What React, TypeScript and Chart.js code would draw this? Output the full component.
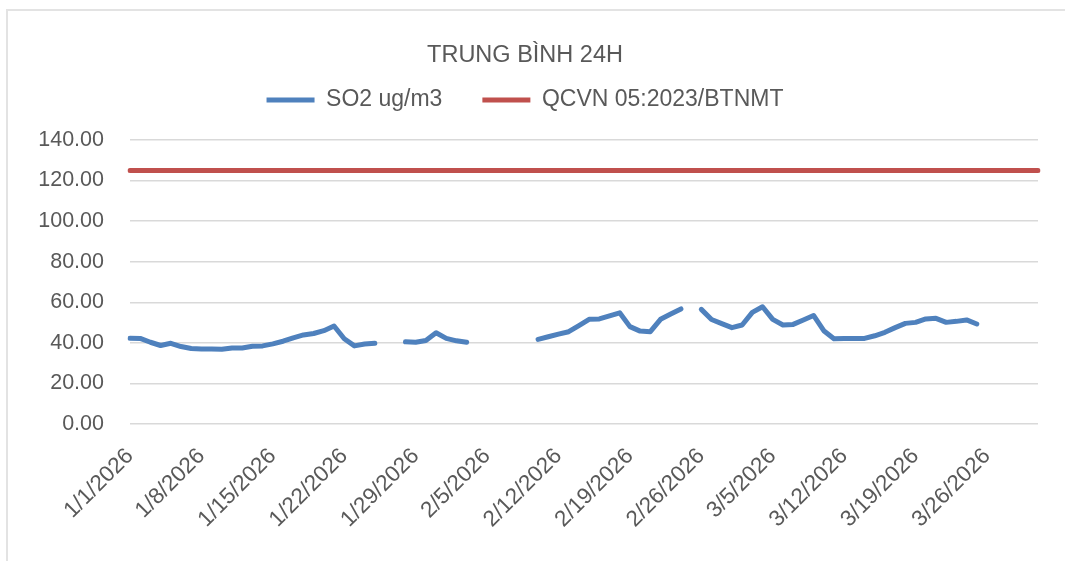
import React, { useEffect, useRef } from "react";
import { Chart, registerables } from "chart.js";

Chart.register(...registerables);

const TITLE = "TRUNG BÌNH 24H";
const SERIES_NAMES = ["SO2 ug/m3", "QCVN 05:2023/BTNMT"];

const MONTHS: [number, number][] = [
  [1, 31],
  [2, 28],
  [3, 31],
];
const YEAR = 2026;
const dateLabels: string[] = [];
for (const [m, days] of MONTHS) {
  for (let d = 1; d <= days; d++) dateLabels.push(`${m}/${d}/${YEAR}`);
}
const LABEL_EVERY = 7;

const so2Values: (number | null)[] = [
  42.3, 42.2, 40.3, 38.7, 39.8, 38.2, 37.2, 37.0, 37.0, 36.8,
  37.5, 37.5, 38.3, 38.5, 39.5, 40.8, 42.5, 43.9, 44.6, 46.0,
  48.3, 42.0, 38.5, 39.4, 39.8, null, null, 40.5, 40.3, 41.2,
  45.0, 42.2, 41.0, 40.3, null, null, null, null, null, null,
  41.7, 43.0, 44.3, 45.5, 48.5, 51.6, 51.8, 53.3, 54.8, 48.0,
  45.8, 45.5, 51.6, 54.2, 56.7, null, 56.5, 51.5, 49.5, 47.5,
  48.8, 55.0, 57.8, 51.6, 48.8, 49.1, 51.3, 53.5, 46.0, 42.0,
  42.2, 42.2, 42.2, 43.5, 45.2, 47.5, 49.6, 50.1, 51.8, 52.1,
  50.1, 50.6, 51.3, 49.3, null, null, null, null, null, null,
];

const qcvnValues: number[] = [
  125, 125, 125, 125, 125, 125, 125, 125, 125, 125,
  125, 125, 125, 125, 125, 125, 125, 125, 125, 125,
  125, 125, 125, 125, 125, 125, 125, 125, 125, 125,
  125, 125, 125, 125, 125, 125, 125, 125, 125, 125,
  125, 125, 125, 125, 125, 125, 125, 125, 125, 125,
  125, 125, 125, 125, 125, 125, 125, 125, 125, 125,
  125, 125, 125, 125, 125, 125, 125, 125, 125, 125,
  125, 125, 125, 125, 125, 125, 125, 125, 125, 125,
  125, 125, 125, 125, 125, 125, 125, 125, 125, 125,
];

const Y_MIN = 0;
const Y_MAX = 140;
const Y_STEP = 20;

const FONT = "'Liberation Sans', Arial, sans-serif";
const TEXT_COLOR = "#595959";
const GRID_COLOR = "#d9d9d9";
const BLUE = "#4f81bd";
const RED = "#c0504d";

const PLOT_BOTTOM = 424;
const PLOT_LEFT = 130;
const PAD_LEFT = 12;

export default function App() {
  const canvasRef = useRef<HTMLCanvasElement | null>(null);

  useEffect(() => {
    if (!canvasRef.current) return;
    const chart = new Chart(canvasRef.current, {
      type: "line",
      data: {
        labels: dateLabels,
        datasets: [
          {
            label: SERIES_NAMES[0],
            data: so2Values,
            borderColor: BLUE,
            backgroundColor: BLUE,
            borderWidth: 5,
            borderCapStyle: "round",
            borderJoinStyle: "round",
            pointRadius: 0,
            spanGaps: false,
            tension: 0,
          },
          {
            label: SERIES_NAMES[1],
            data: qcvnValues,
            borderColor: RED,
            backgroundColor: RED,
            borderWidth: 5,
            borderCapStyle: "round",
            borderJoinStyle: "round",
            pointRadius: 0,
            tension: 0,
          },
        ],
      },
      options: {
        animation: false,
        responsive: false,
        maintainAspectRatio: false,
        layout: { padding: { top: 0, left: PAD_LEFT, right: 27, bottom: 0 } },
        plugins: {
          title: {
            display: true,
            text: TITLE,
            color: TEXT_COLOR,
            font: { family: FONT, size: 23.5, weight: "normal" },
            padding: { top: 41.9, bottom: -21.6 },
          },
          subtitle: {
            display: true,
            text: "",
            weight: 500,
            font: { family: FONT, size: 1, lineHeight: 1 },
            padding: { top: 17.5, bottom: 0 },
          },
          legend: {
            display: true,
            position: "top",
            labels: {
              usePointStyle: true,
              pointStyle: "line",
              pointStyleWidth: 48,
              color: TEXT_COLOR,
              font: { family: FONT, size: 23 },
              padding: 40,
            },
          },
          tooltip: { enabled: false },
        },
        scales: {
          x: {
            type: "category",
            offset: false,
            grid: { display: false, drawTicks: false },
            border: { display: false },
            ticks: {
              autoSkip: false,
              minRotation: 45,
              maxRotation: 45,
              padding: 19,
              color: TEXT_COLOR,
              font: { family: FONT, size: 22.5 },
              callback: (_v: any, i: number) => (i % LABEL_EVERY === 0 ? dateLabels[i] : ""),
            },
            afterFit: (scale: any) => {
              scale.height = 561 - PLOT_BOTTOM;
              scale.paddingLeft = 0;
              scale.paddingRight = 0;
            },
          },
          y: {
            min: Y_MIN,
            max: Y_MAX,
            grid: { color: GRID_COLOR, lineWidth: 1.5, drawTicks: false },
            border: { display: false },
            ticks: {
              stepSize: Y_STEP,
              padding: 26,
              color: TEXT_COLOR,
              font: { family: FONT, size: 21.5 },
              callback: (v: any) => Number(v).toFixed(2),
            },
            afterFit: (scale: any) => {
              scale.width = PLOT_LEFT - PAD_LEFT;
              scale.paddingTop = 0;
              scale.paddingBottom = 0;
            },
          },
        },
      },
    });
    return () => chart.destroy();
  }, []);

  return (
    <div
      style={{
        position: "fixed",
        left: 0,
        top: 0,
        width: 1065,
        height: 561,
        overflow: "hidden",
        background: "#fff",
      }}
    >
      <div
        style={{
          position: "absolute",
          left: 6,
          top: 9,
          width: 1100,
          height: 600,
          border: "2px solid #e3e3e3",
          boxSizing: "border-box",
        }}
      />
      <canvas
        ref={canvasRef}
        width={1065}
        height={561}
        style={{ position: "absolute", left: 0, top: 0, width: 1065, height: 561 }}
      />
    </div>
  );
}
